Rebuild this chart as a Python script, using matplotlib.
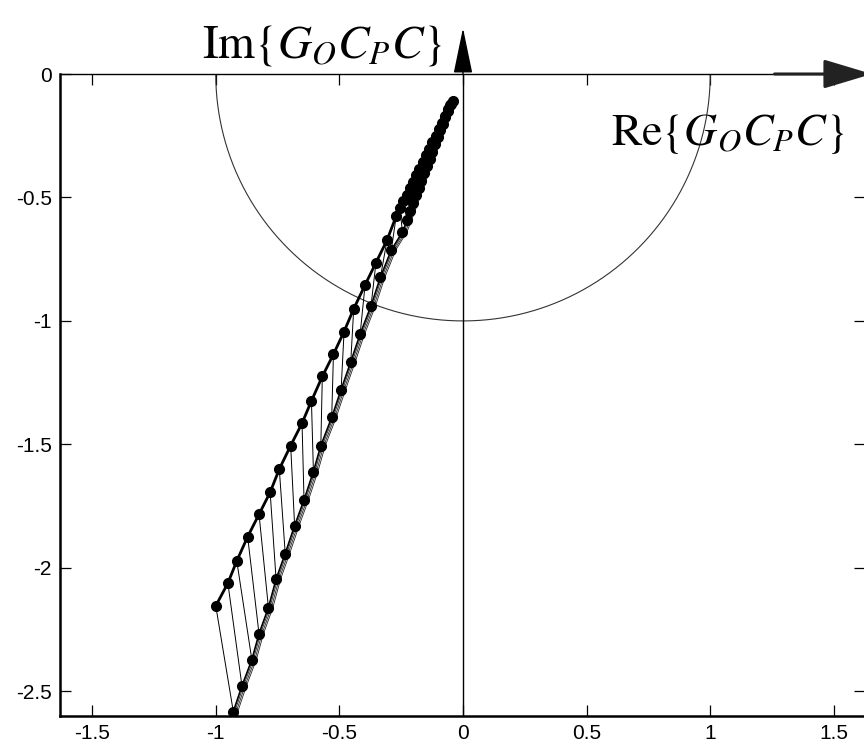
#!/usr/bin/env python3
"""Nyquist-type locus of G_O C_P C for the nominal and perturbed loops."""

import matplotlib

matplotlib.use("Agg")
import matplotlib.pyplot as plt
import numpy as np

plt.rcParams["font.family"] = ["Liberation Sans", "DejaVu Sans"]
plt.rcParams["mathtext.fontset"] = "stix"

# nominal locus (upper/left branch)
nominal_re = [
    -1.000, -0.951, -0.915, -0.871, -0.825, -0.780, -0.743, -0.697, -0.651,
    -0.613, -0.569, -0.524, -0.481, -0.442, -0.396, -0.352, -0.307, -0.270,
    -0.255, -0.241, -0.228, -0.215, -0.202, -0.189, -0.176, -0.163, -0.150,
    -0.137, -0.124, -0.111, -0.098, -0.085, -0.072, -0.059, -0.048, -0.042,
]
nominal_im = [
    -2.154, -2.062, -1.972, -1.874, -1.783, -1.694, -1.600, -1.505, -1.414,
    -1.324, -1.225, -1.135, -1.043, -0.951, -0.854, -0.764, -0.672, -0.575,
    -0.544, -0.515, -0.489, -0.462, -0.436, -0.409, -0.383, -0.356, -0.330,
    -0.303, -0.277, -0.250, -0.224, -0.197, -0.170, -0.143, -0.120, -0.108,
]

# perturbed locus (lower/right branch), same frequency points
perturbed_re = [
    -0.929, -0.894, -0.854, -0.825, -0.787, -0.756, -0.719, -0.681, -0.643,
    -0.605, -0.575, -0.531, -0.493, -0.454, -0.416, -0.372, -0.334, -0.290,
    -0.245, -0.226, -0.213, -0.201, -0.190, -0.179, -0.168, -0.157, -0.146,
    -0.135, -0.124, -0.113, -0.102, -0.092, -0.082, -0.072, -0.062, -0.054,
]
perturbed_im = [
    -2.582, -2.478, -2.372, -2.267, -2.161, -2.046, -1.942, -1.829, -1.725,
    -1.610, -1.505, -1.391, -1.278, -1.166, -1.053, -0.939, -0.823, -0.713,
    -0.640, -0.592, -0.556, -0.523, -0.492, -0.462, -0.432, -0.402, -0.372,
    -0.343, -0.314, -0.285, -0.256, -0.228, -0.201, -0.174, -0.148, -0.127,
]

# neighbouring loci drawn as a thin band beside the perturbed branch
band_shift = [0.006, 0.012, 0.018]

tick_values = [-2.5, -2, -1.5, -1, -0.5, 0]
tick_labels = ["-2.5", "-2", "-1.5", "-1", "-0.5", "0"]
xtick_values = [-1.5, -1, -0.5, 0, 0.5, 1, 1.5]
xtick_labels = ["-1.5", "-1", "-0.5", "0", "0.5", "1", "1.5"]


def main() -> None:
    fig = plt.figure(figsize=(8.64, 7.47), dpi=100)
    ax = fig.add_axes([60 / 864, 31 / 747, 805 / 864, 642 / 747])

    # unit circle (only the lower half lies inside the window)
    theta = np.linspace(np.pi, 2 * np.pi, 400)
    ax.plot(np.cos(theta), np.sin(theta), color="#333333", lw=0.8)

    ax.axvline(0, color="black", lw=1.0)

    nre = np.asarray(nominal_re)
    nim = np.asarray(nominal_im)
    pre = np.asarray(perturbed_re)
    pim = np.asarray(perturbed_im)

    # rungs joining equal-frequency points
    for x0, y0, x1, y1 in zip(nre, nim, pre, pim):
        ax.plot([x0, x1], [y0, y1], color="black", lw=0.7)

    for shift in band_shift:
        ax.plot(pre + shift, pim, color="#222222", lw=0.6)

    ax.plot(pre, pim, color="black", lw=1.2, marker="o", ms=7)
    ax.plot(nre, nim, color="black", lw=2.0, marker="o", ms=7)

    ax.set_xlim(-1.63, 1.626)
    ax.set_ylim(-2.6, 0)
    ax.set_xticks(xtick_values, xtick_labels)
    ax.set_yticks(tick_values, tick_labels)
    ax.tick_params(direction="in", length=8, width=0.9, top=True, right=True,
                   labelsize=15, pad=6, colors="black")
    ax.tick_params(axis="y", pad=6)
    ax.spines["left"].set_linewidth(1.8)
    ax.spines["bottom"].set_linewidth(1.8)
    ax.spines["top"].set_linewidth(1.0)

    # axis arrows
    ax.annotate("", xy=(0, 0.186), xytext=(0, 0.0), xycoords="data",
                annotation_clip=False,
                arrowprops=dict(arrowstyle="-|>,head_length=2.9,head_width=0.6",
                                color="black", lw=1.0, shrinkA=0, shrinkB=0))
    ax.annotate("", xy=(1.654, 0.0), xytext=(1.26, 0.0), xycoords="data",
                annotation_clip=False,
                arrowprops=dict(arrowstyle="-|>,head_length=3.0,head_width=0.9",
                                color="#222222", lw=2.2, shrinkA=0, shrinkB=0))

    ax.text(-0.57, 0.115, r"$\mathrm{Im}\left\{G_O C_P C\right\}$", fontsize=34,
            ha="center", va="center", clip_on=False)
    ax.text(1.07, -0.245, r"$\mathrm{Re}\left\{G_O C_P C\right\}$", fontsize=33,
            ha="center", va="center", clip_on=False)

    fig.savefig("out.png", dpi=100)
    plt.close(fig)


if __name__ == "__main__":
    main()
